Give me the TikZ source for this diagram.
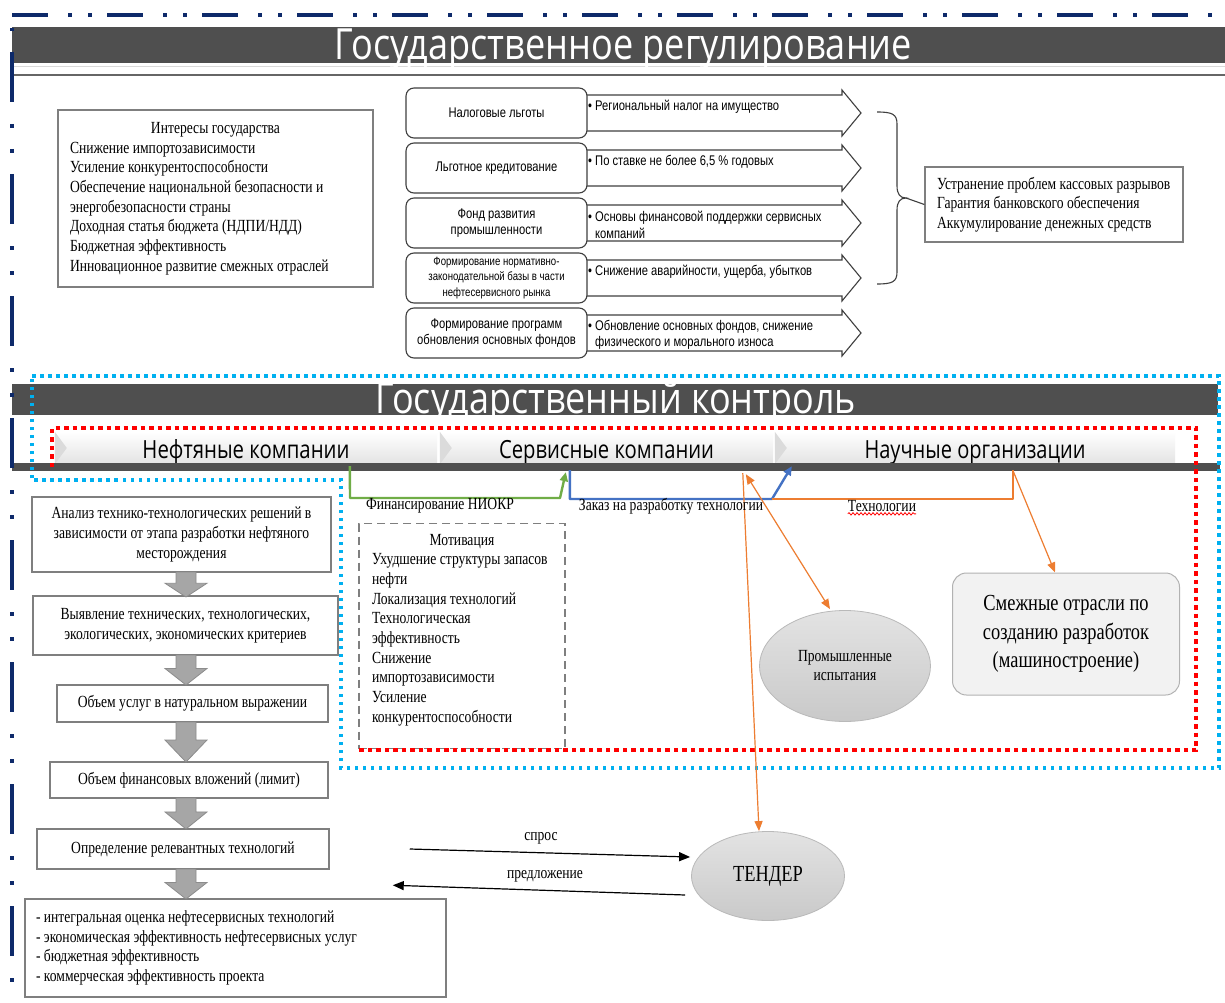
\documentclass[tikz,border=0pt]{standalone}
\usepackage{fontspec}
\usepackage{graphicx}
\setmainfont{Liberation Serif}[FakeStretch=0.8]
\newfontfamily\arnfont{Liberation Sans}[FakeStretch=0.8]
\newfontfamily\hdrfont{Open Sans}[FakeStretch=0.8]
\usetikzlibrary{shapes.geometric,arrows.meta,decorations.pathmorphing,calc}

\definecolor{navyline}{HTML}{0E2A6A}
\definecolor{hbar}{HTML}{4F4F4F}
\definecolor{cyandot}{HTML}{00B0F0}
\definecolor{reddot}{HTML}{FF0000}
\definecolor{grnline}{HTML}{70AD47}
\definecolor{bluline}{HTML}{4472C4}
\definecolor{orgline}{HTML}{ED7D31}
\definecolor{boxgray}{HTML}{7F7F7F}
\definecolor{rowgray}{HTML}{3F3F3F}
\definecolor{blkfill}{HTML}{A6A6A6}
\definecolor{blkdraw}{HTML}{8C8C8C}
\definecolor{ellfill}{HTML}{C9C9C9}

\newcommand\blockdown[3]{%
  \pgfmathsetmacro\bmid{#2+0.45*(#3-#2)}%
  \draw[blkdraw, fill=blkfill, line width=0.8pt] ({#1-10},#2) -- ({#1+10},#2) -- ({#1+10},\bmid) -- ({#1+21},\bmid) -- (#1,#3) -- ({#1-21},\bmid) -- ({#1-10},\bmid) -- cycle;}

\newcommand\rowarrow[1]{%
  \draw[arrowshape] (580,{#1+7}) -- (842,{#1+7}) -- (842,{#1+2}) -- (861,{#1+25}) -- (842,{#1+48}) -- (842,{#1+43}) -- (580,{#1+43}) -- cycle;}

\tikzset{
  serifbody/.style={font=\fontsize{17}{19.7}\selectfont},
  hdrtext/.style={text=white, font=\hdrfont\fontsize{43}{43}\selectfont, inner sep=0pt, anchor=base},
  txtbox/.style={draw=boxgray, line width=1.3pt, fill=white, inner xsep=12pt, inner ysep=4pt, align=flush left, serifbody},
  flowbox/.style={draw=boxgray, line width=1.5pt, fill=white, inner sep=2pt, align=center, serifbody},
  rowbox/.style={draw=rowgray, line width=1.1pt, fill=white, rounded corners=8pt, align=center, inner sep=2pt, minimum width=181pt, minimum height=50pt, font=\arnfont\fontsize{14}{16.5}\selectfont},
  arrowshape/.style={draw=rowgray, line width=1.1pt, fill=white},
  arrtext/.style={anchor=west, align=left, inner sep=0pt, font=\arnfont\fontsize{14}{16.5}\selectfont},
  chevseg/.style={top color=white, bottom color=gray!22, draw=none, inner sep=0pt, minimum height=32pt, text height=25pt, text depth=5pt, font=\hdrfont\fontsize{25}{25}\selectfont},
  cyanpath/.style={draw=cyandot, line width=4pt, dash pattern=on 3.5pt off 4.5pt},
  redpath/.style={draw=reddot, line width=4.5pt, dash pattern=on 4.5pt off 4pt},
  thickconn/.style={line width=2.4pt, line join=round},
  thinorg/.style={draw=orgline, line width=1.2pt},
  orgtip/.style={-{Triangle[length=10pt,width=8pt]}},
  lbl/.style={inner sep=0pt, serifbody},
  ellnode/.style={ellipse, draw=gray!55, line width=0.8pt, top color=gray!22, bottom color=ellfill, inner sep=0pt, align=center},
  blkarr/.style={-{Triangle[length=11pt,width=9pt]}, line width=1.2pt, black}
}

\begin{document}
\begin{tikzpicture}[x=1pt,y=-1pt]
\useasboundingbox (0,0) rectangle (1225,1003);
\fill[white] (0,0) rectangle (1225,1003);

% ---------- header 1 ----------
\fill[hbar] (12,27) rectangle (1225,63);
\draw[gray!30, line width=1pt] (12,67) -- (1225,67);
\draw[gray!80!black, line width=2.5pt] (12,75) -- (1225,75);
\node[hdrtext] (h1) at (623.5,60) {\resizebox{577pt}{\height}{Государственное регулирование}};

% frame line (top)
\draw[navyline, line width=4pt, dash pattern=on 36pt off 20pt on 4pt off 16pt on 4pt off 15pt] (12,15) -- (1225,15);

% ---------- interests ----------
\node[txtbox, minimum width=315pt, minimum height=177pt, text width=291pt] (interests) at (215.5,198.5)
 {\makebox[291pt]{Интересы государства}\\
  Снижение импортозависимости\\
  Усиление конкурентоспособности\\
  Обеспечение национальной безопасности и\\
  энергобезопасности страны\\
  Доходная статья бюджета (НДПИ/НДД)\\
  Бюджетная эффективность\\
  Инновационное развитие смежных отраслей};

% ---------- rows ----------
\rowarrow{88}
\rowarrow{143}
\rowarrow{198}
\rowarrow{253}
\rowarrow{308}
\node[rowbox] (r1) at (496.5,113) {Налоговые льготы};
\node[rowbox] (r2) at (496.5,168) {Льготное кредитование};
\node[rowbox] (r3) at (496.5,223) {Фонд развития\\промышленности};
\node[rowbox, font=\arnfont\fontsize{12}{15.5}\selectfont] (r4) at (496.5,278) {Формирование нормативно-\\законодательной базы в части\\нефтесервисного рынка};
\node[rowbox] (r5) at (496.5,333) {Формирование программ\\обновления основных фондов};

\node[arrtext] (a1) at (588,107) {\makebox[7pt][l]{•}Региональный налог на имущество};
\node[arrtext] (a2) at (588,162) {\makebox[7pt][l]{•}По ставке не более 6,5 \% годовых};
\node[arrtext] (a3) at (588,225) {\makebox[7pt][l]{•}Основы финансовой поддержки сервисных\\\hspace*{7pt}компаний};
\node[arrtext] (a4) at (588,272) {\makebox[7pt][l]{•}Снижение аварийности, ущерба, убытков};
\node[arrtext] (a5) at (588,335) {\makebox[7pt][l]{•}Обновление основных фондов, снижение\\\hspace*{7pt}физического и морального износа};

% brace and goals
\draw[rowgray, line width=1.1pt] (877,112) .. controls (892,112) and (897,114) .. (897,124) -- (897,186)
  .. controls (897,194) and (900,198) .. (906,198) .. controls (900,198) and (897,202) .. (897,210)
  -- (897,272) .. controls (897,282) and (892,284) .. (877,284);
\node[txtbox, minimum width=258pt, minimum height=75pt, text width=234pt] (goals) at (1054,204.5)
 {\mbox{Устранение проблем кассовых разрывов}\\
  Гарантия банковского обеспечения\\
  Аккумулирование денежных средств};
\draw[rowgray, line width=1.1pt] (906,198) -- (goals.west);

% ---------- header 2 ----------
\fill[hbar] (12,384) rectangle (1218,415);
\node[hdrtext] (h2) at (616,413) {\resizebox{480pt}{\height}{Государственный контроль}};

% chevrons
\node[chevseg, minimum width=382pt] (oil) at (246,448) {\resizebox{207pt}{\height}{Нефтяные компании}};
\node[chevseg, minimum width=333pt] (svc) at (606.5,448) {\resizebox{215pt}{\height}{Сервисные компании}};
\node[chevseg, minimum width=400pt] (sci) at (975,448) {\resizebox{221pt}{\height}{Научные организации}};
\fill[gray!28] (oil.north west) -- ($(oil.west)+(12,0)$) -- (oil.south west) -- cycle;
\fill[gray!28] (svc.north west) -- ($(svc.west)+(12,0)$) -- (svc.south west) -- cycle;
\fill[gray!28] (sci.north west) -- ($(sci.west)+(12,0)$) -- (sci.south west) -- cycle;
\fill[hbar] (12,463) rectangle (1220,471);

% frame line (left)
\draw[navyline, line width=4pt, dash pattern=on 50pt off 22pt on 4pt off 21pt on 4pt off 21pt, dash phase=98pt] (12,28) -- (12,1003);

% ---------- motivation ----------
\node[draw=boxgray, line width=1.5pt, dash pattern=on 8pt off 5pt, minimum width=206pt, minimum height=225pt, inner sep=0pt] (motbox) at (462,636) {};
\node[lbl, align=flush left, text width=189pt] (mot) at (466.5,630)
 {\makebox[180pt]{Мотивация}\\
  Ухудшение структуры запасов\\
  нефти\\
  Локализация технологий\\
  Технологическая\\
  эффективность\\
  Снижение\\
  импортозависимости\\
  Усиление\\
  конкурентоспособности};

% dotted frames
\draw[cyanpath] (32,376) -- (1219,376) -- (1219,768) -- (341,768) -- (341,480) -- (32,480) -- cycle;
\draw[redpath] (52,467) -- (52,428) -- (1196,428) -- (1196,750) -- (357,750);

% ---------- right side nodes ----------
\node[draw=gray!60, line width=1pt, fill=gray!10, rounded corners=14pt, minimum width=227pt, minimum height=122pt, align=center, font=\fontsize{23}{28.5}\selectfont] (adj) at (1066,634)
 {Смежные отрасли по\\созданию разработок\\(машиностроение)};
\node[ellnode, minimum width=171pt, minimum height=111pt, font=\fontsize{17}{19}\selectfont] (test) at (845,666) {Промышленные\\испытания};
\node[ellnode, minimum width=153pt, minimum height=89pt, font=\fontsize{23}{23}\selectfont] (tender) at (768,876) {ТЕНДЕР};

% ---------- connectors ----------
\coordinate (jn) at (772,499);
\draw[grnline, thickconn, -{Triangle[length=9pt,width=8pt]}] ($(oil.south west)+(295,2)$) -- (350,498) -- (560,498) -- ($(svc.south west)+(126,8)$);
\draw[bluline, thickconn, -{Triangle[length=9pt,width=8pt]}] ($(svc.south west)+(130,6)$) |- (jn) -- ($(sci.south west)+(17,2)$);
\draw[orgline, thickconn] ($(sci.south west)+(238,6)$) |- (jn);
\draw[thinorg, {Triangle[length=10pt,width=8pt]}-{Triangle[length=10pt,width=8pt]}] ($(svc.south west)+(306,10)$) -- ($(test.north)+(-15,-1)$);
\draw[thinorg, orgtip] ($(svc.south west)+(303,9)$) -- ($(tender.north)+(-9,0)$);
\draw[thinorg, orgtip] ($(sci.south west)+(238,6)$) -- ($(adj.north)+(-11,0)$);

\node[lbl] (lfin) at (440,506) {Финансирование НИОКР};
\node[lbl] (lord) at (671,506) {Заказ на разработку технологии};
\node[lbl] (ltech) at (882,506) {Технологии};
\draw[red, line width=0.8pt, decorate, decoration={snake, amplitude=1.2pt, segment length=4pt}] ($(ltech.south west)+(0,2)$) -- ($(ltech.south east)+(0,2)$);

% ---------- flow ----------
\node[flowbox, minimum width=299pt, minimum height=75pt] (f1) at (181.5,534.5)
 {Анализ технико-технологических решений в\\зависимости от этапа разработки нефтяного\\месторождения};
\node[flowbox, minimum width=305pt, minimum height=59pt] (f2) at (185.5,625.5)
 {Выявление технических, технологических,\\экологических, экономических критериев};
\node[flowbox, minimum width=271pt, minimum height=37pt] (f3) at (192.5,703.5) {Объем услуг в натуральном выражении};
\node[flowbox, minimum width=278pt, minimum height=36pt] (f4) at (189,780) {Объем финансовых вложений (лимит)};
\node[flowbox, minimum width=292pt, minimum height=40pt] (f5) at (183,849) {Определение релевантных технологий};
\node[flowbox, align=flush left, inner xsep=11pt, text width=399pt, minimum width=421pt, minimum height=98pt] (f6) at (235.5,948)
 {- интегральная оценка нефтесервисных технологий\\
  - экономическая эффективность нефтесервисных услуг\\
  - бюджетная эффективность\\
  - коммерческая эффективность проекта};

\blockdown{186}{572}{597}
\blockdown{186}{655}{685}
\blockdown{186}{722}{762}
\blockdown{186}{798}{829}
\blockdown{186}{869}{899}

% tender arrows
\draw[blkarr] ($(f5.east)+(80,0)$) -- ($(tender.west)+(-1,-19)$);
\node[lbl] (lspros) at (541,838) {спрос};
\draw[blkarr] ($(tender.west)+(-6,19)$) -- ($(f6.north east)+(-54,-13)$);
\node[lbl] (lpred) at (545,876) {предложение};

\end{tikzpicture}
\end{document}
